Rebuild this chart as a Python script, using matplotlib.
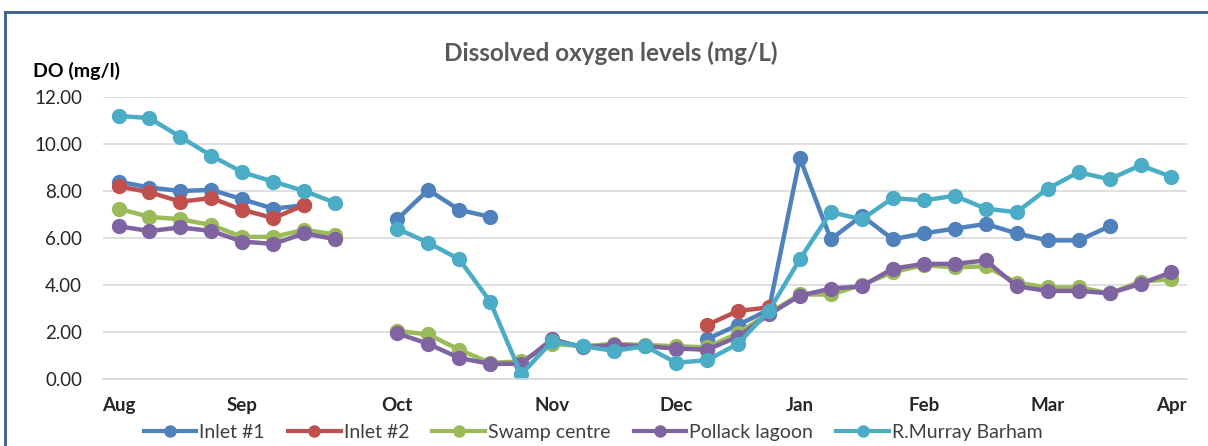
import matplotlib
matplotlib.use("Agg")
import matplotlib.pyplot as plt
import numpy as np
from matplotlib.lines import Line2D

nan = np.nan

# category axis: one slot per sampling week, month names on the first week
x_labels = ["Aug", "", "", "", "Sep", "", "", "", "", "Oct", "", "", "", "",
            "Nov", "", "", "", "Dec", "", "", "", "Jan", "", "", "",
            "Feb", "", "", "", "Mar", "", "", "", "Apr"]

inlet_1 = [8.4, 8.15, 8.0, 8.05, 7.65, 7.25, 7.4, nan, nan, 6.8, 8.05, 7.2, 6.9,
           nan, nan, nan, nan, nan, nan, 1.7, 2.3, 2.95, 9.4, 5.95, 6.95, 5.95,
           6.2, 6.4, 6.6, 6.2, 5.9, 5.9, 6.5, nan, nan]
inlet_2 = [8.2, 7.95, 7.55, 7.7, 7.2, 6.85, 7.4, nan, nan, nan, nan, nan, nan,
           nan, nan, nan, nan, nan, nan, 2.3, 2.9, 3.05, nan, nan, nan, nan,
           nan, nan, nan, nan, nan, nan, nan, nan, nan]
swamp_centre = [7.25, 6.9, 6.8, 6.55, 6.05, 6.05, 6.35, 6.15, nan, 2.05, 1.9, 1.25,
                0.7, 0.75, 1.5, 1.4, 1.5, 1.45, 1.4, 1.35, 1.95, 2.8, 3.6, 3.6,
                4.0, 4.55, 4.85, 4.75, 4.8, 4.1, 3.9, 3.9, 3.65, 4.15, 4.25]
pollack_lagoon = [6.5, 6.3, 6.45, 6.3, 5.85, 5.75, 6.2, 5.95, nan, 1.95, 1.5, 0.9,
                  0.65, 0.65, 1.7, 1.35, 1.45, 1.4, 1.3, 1.25, 1.8, 2.75, 3.55,
                  3.85, 3.95, 4.7, 4.9, 4.9, 5.05, 3.95, 3.75, 3.75, 3.65, 4.05, 4.55]
murray_barham = [11.2, 11.1, 10.3, 9.5, 8.8, 8.4, 8.0, 7.5, nan, 6.4, 5.8, 5.1, 3.3,
                 0.2, 1.6, 1.4, 1.2, 1.4, 0.7, 0.8, 1.5, 2.9, 5.1, 7.1, 6.8, 7.7,
                 7.6, 7.8, 7.25, 7.1, 8.1, 8.8, 8.5, 9.1, 8.6]

series = [
    ("Inlet #1", inlet_1, "#4F81BD"),
    ("Inlet #2", inlet_2, "#C0504D"),
    ("Swamp centre", swamp_centre, "#9BBB59"),
    ("Pollack lagoon", pollack_lagoon, "#8064A2"),
    ("R.Murray Barham", murray_barham, "#4BACC6"),
]

plt.rcParams["font.family"] = ["Lato", "DejaVu Sans"]

fig = plt.figure(figsize=(12.08, 4.46), dpi=100)
ax = fig.add_axes([0.0853, 0.150, 0.8973, 0.6325])

x = np.arange(len(x_labels))
for name, values, color in series:
    ax.plot(x, values, color=color, lw=3.2, marker="o", ms=10,
            label=name, solid_capstyle="round")

ax.set_xlim(-0.5, len(x_labels) - 0.5)
ax.set_ylim(0, 12)
yt = np.arange(0, 12.1, 2)
ax.set_yticks(yt)
ax.set_yticklabels([f"{v:.2f}" for v in yt])
ax.set_xticks(x)
ax.set_xticklabels(x_labels, fontweight="bold")
ax.tick_params(axis="both", length=0, labelsize=13.5, colors="#262626")
ax.tick_params(axis="y", pad=15)
ax.tick_params(axis="x", pad=13)
ax.grid(axis="y", color="#d9d9d9", lw=1.2)
ax.set_axisbelow(True)
for side in ["top", "right", "left"]:
    ax.spines[side].set_visible(False)
ax.spines["bottom"].set_color("#d9d9d9")
ax.spines["bottom"].set_linewidth(1.2)

fig.text(0.506, 0.88, "Dissolved oxygen levels (mg/L)", ha="center", va="center",
         fontsize=17.5, fontweight="bold", color="#595959")
fig.text(0.027, 0.84, "DO (mg/l)", ha="left", va="center",
         fontsize=14, fontweight="bold", color="black")

handles = [Line2D([], [], color=c, lw=3, marker="o", ms=8) for _, _, c in series]
fig.legend(handles, [n for n, _, _ in series], loc="center",
           bbox_to_anchor=(0.491, 0.031), ncol=5, frameon=False,
           fontsize=14, handlelength=2.7, handletextpad=0.15, columnspacing=1.2,
           labelcolor="#404040")

# chart border (cut off at right and bottom in the original)
border = "#3A5F8C"
fig.add_artist(Line2D([5 / 1208, 1.0], [1 - 12 / 446] * 2, color=border, lw=2,
                      transform=fig.transFigure))
fig.add_artist(Line2D([5 / 1208] * 2, [0.0, 1 - 12 / 446], color=border, lw=2,
                      transform=fig.transFigure))

fig.savefig("out.png", dpi=100)
